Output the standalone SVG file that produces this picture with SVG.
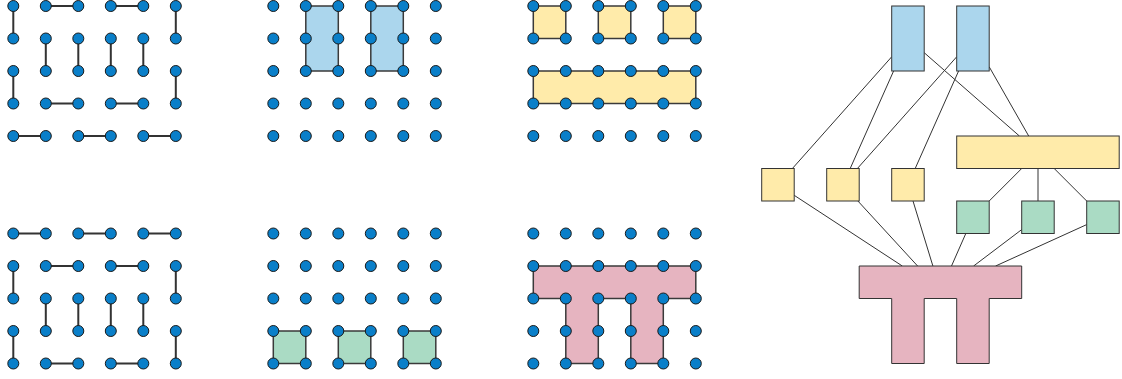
<svg xmlns="http://www.w3.org/2000/svg" xmlns:xlink="http://www.w3.org/1999/xlink" width="1122" height="379" viewBox="0 0 1122 379">
<style>
.dot{fill:#0a7fc9;stroke:#1a1a1a;stroke-width:1}
.edge{fill:none;stroke:#333;stroke-width:2}
.sh{stroke:#3a3a3a;stroke-width:1.5}
.nd{stroke:#333;stroke-width:1}
.blue{fill:#abd6ed}
.yel{fill:#ffebaa}
.grn{fill:#aadbc4}
.pnk{fill:#e6b4c0}
.con{fill:none;stroke:#333;stroke-width:1}
</style>
<defs>
<g id="dots">
<circle class="dot" cx="0" cy="0" r="5.5"/><circle class="dot" cx="32.5" cy="0" r="5.5"/><circle class="dot" cx="65" cy="0" r="5.5"/><circle class="dot" cx="97.5" cy="0" r="5.5"/><circle class="dot" cx="130" cy="0" r="5.5"/><circle class="dot" cx="162.5" cy="0" r="5.5"/>
<circle class="dot" cx="0" cy="32.5" r="5.5"/><circle class="dot" cx="32.5" cy="32.5" r="5.5"/><circle class="dot" cx="65" cy="32.5" r="5.5"/><circle class="dot" cx="97.5" cy="32.5" r="5.5"/><circle class="dot" cx="130" cy="32.5" r="5.5"/><circle class="dot" cx="162.5" cy="32.5" r="5.5"/>
<circle class="dot" cx="0" cy="65" r="5.5"/><circle class="dot" cx="32.5" cy="65" r="5.5"/><circle class="dot" cx="65" cy="65" r="5.5"/><circle class="dot" cx="97.5" cy="65" r="5.5"/><circle class="dot" cx="130" cy="65" r="5.5"/><circle class="dot" cx="162.5" cy="65" r="5.5"/>
<circle class="dot" cx="0" cy="97.5" r="5.5"/><circle class="dot" cx="32.5" cy="97.5" r="5.5"/><circle class="dot" cx="65" cy="97.5" r="5.5"/><circle class="dot" cx="97.5" cy="97.5" r="5.5"/><circle class="dot" cx="130" cy="97.5" r="5.5"/><circle class="dot" cx="162.5" cy="97.5" r="5.5"/>
<circle class="dot" cx="0" cy="130" r="5.5"/><circle class="dot" cx="32.5" cy="130" r="5.5"/><circle class="dot" cx="65" cy="130" r="5.5"/><circle class="dot" cx="97.5" cy="130" r="5.5"/><circle class="dot" cx="130" cy="130" r="5.5"/><circle class="dot" cx="162.5" cy="130" r="5.5"/>
</g>
</defs>
<rect width="1122" height="379" fill="#ffffff"/>

<g id="gridA-top" transform="translate(13.3,6)">
<path class="edge" d="M0 0V32.5M32.5 0H65M97.5 0H130M162.5 0V32.5M32.5 32.5V65M65 32.5V65M97.5 32.5V65M130 32.5V65M0 65V97.5M162.5 65V97.5M32.5 97.5H65M97.5 97.5H130M0 130H32.5M65 130H97.5M130 130H162.5"/>
<use xlink:href="#dots"/>
</g>
<g id="gridA-bottom" transform="translate(13.3,233.5)">
<path class="edge" d="M0 0H32.5M65 0H97.5M130 0H162.5M32.5 32.5H65M97.5 32.5H130M0 32.5V65M162.5 32.5V65M32.5 65V97.5M65 65V97.5M97.5 65V97.5M130 65V97.5M0 97.5V130M162.5 97.5V130M32.5 130H65M97.5 130H130"/>
<use xlink:href="#dots"/>
</g>
<g id="gridB-top" transform="translate(273.3,6)">
<rect class="sh blue" x="32.5" y="0" width="32.5" height="65"/>
<rect class="sh blue" x="97.5" y="0" width="32.5" height="65"/>
<use xlink:href="#dots"/>
</g>
<g id="gridB-bottom" transform="translate(273.3,233.5)">
<rect class="sh grn" x="0" y="97.5" width="32.5" height="32.5"/>
<rect class="sh grn" x="65" y="97.5" width="32.5" height="32.5"/>
<rect class="sh grn" x="130" y="97.5" width="32.5" height="32.5"/>
<use xlink:href="#dots"/>
</g>
<g id="gridC-top" transform="translate(533.3,6)">
<rect class="sh yel" x="0" y="0" width="32.5" height="32.5"/>
<rect class="sh yel" x="65" y="0" width="32.5" height="32.5"/>
<rect class="sh yel" x="130" y="0" width="32.5" height="32.5"/>
<rect class="sh yel" x="0" y="65" width="162.5" height="32.5"/>
<use xlink:href="#dots"/>
</g>
<g id="gridC-bottom" transform="translate(533.3,233.5)">
<path class="sh pnk" d="M0 32.5H162.5V65H130V130H97.5V65H65V130H32.5V65H0Z"/>
<use xlink:href="#dots"/>
</g>

<g id="connectors">
<path class="con" d="M891.7 56.8L792.4 168.5"/>
<path class="con" d="M893.6 71L850.2 168.5"/>
<path class="con" d="M924.2 52.7L1019.4 136"/>
<path class="con" d="M956.7 56.8L857.4 168.5"/>
<path class="con" d="M958.6 71L915.2 168.5"/>
<path class="con" d="M989.2 66.8L1028.7 136"/>
<path class="con" d="M1021.7 168.5L989.2 201"/>
<path class="con" d="M1038 168.5L1038 201"/>
<path class="con" d="M1054.2 168.5L1086.7 201"/>
<path class="con" d="M794.2 195.3L902.3 266"/>
<path class="con" d="M857.9 201L917.6 266"/>
<path class="con" d="M913 201L932.9 266"/>
<path class="con" d="M965.8 233.5L951.5 266"/>
<path class="con" d="M1021.7 229.6L973.6 266"/>
<path class="con" d="M1086.7 224.6L995.6 266"/>
</g>

<g id="node-blue1"><rect class="nd blue" x="891.7" y="6" width="32.5" height="65"/></g>
<g id="node-blue2"><rect class="nd blue" x="956.7" y="6" width="32.5" height="65"/></g>
<g id="node-yellow-long"><rect class="nd yel" x="956.7" y="136" width="162.5" height="32.5"/></g>
<g id="node-yellow1"><rect class="nd yel" x="761.7" y="168.5" width="32.5" height="32.5"/></g>
<g id="node-yellow2"><rect class="nd yel" x="826.7" y="168.5" width="32.5" height="32.5"/></g>
<g id="node-yellow3"><rect class="nd yel" x="891.7" y="168.5" width="32.5" height="32.5"/></g>
<g id="node-green1"><rect class="nd grn" x="956.7" y="201" width="32.5" height="32.5"/></g>
<g id="node-green2"><rect class="nd grn" x="1021.7" y="201" width="32.5" height="32.5"/></g>
<g id="node-green3"><rect class="nd grn" x="1086.7" y="201" width="32.5" height="32.5"/></g>
<g id="node-pink"><path class="nd pnk" d="M859.2 266H1021.7V298.5H989.2V363.5H956.7V298.5H924.2V363.5H891.7V298.5H859.2Z"/></g>
</svg>
